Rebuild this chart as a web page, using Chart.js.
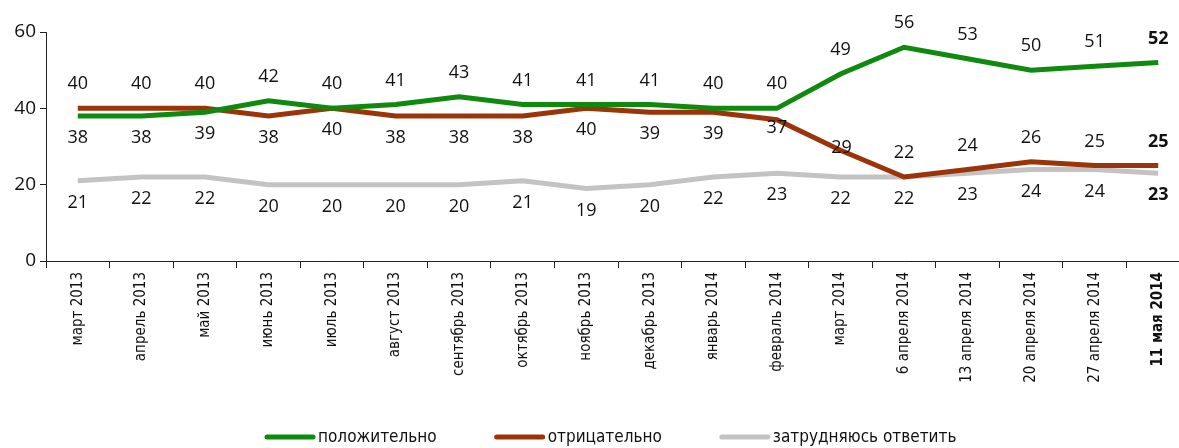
<!DOCTYPE html>
<html>
<head>
<meta charset="utf-8">
<script src="https://cdn.jsdelivr.net/npm/chart.js@4"></script>
<style>
  html, body { margin: 0; padding: 0; background: #fff; overflow: hidden; }
  #wrap { width: 1200px; height: 448px; }
</style>
</head>
<body>
<div id="wrap"><canvas id="chart"></canvas></div>
<script>
// data
const categories = ['март 2013', 'апрель 2013', 'май 2013', 'июнь 2013', 'июль 2013', 'август 2013',
    'сентябрь 2013', 'октябрь 2013', 'ноябрь 2013', 'декабрь 2013', 'январь 2014', 'февраль 2014',
    'март 2014', '6 апреля 2014', '13 апреля 2014', '20 апреля 2014', '27 апреля 2014', '11 мая 2014'];
const positive = [38, 38, 39, 42, 40, 41, 43, 41, 41, 41, 40, 40, 49, 56, 53, 50, 51, 52];
const negative = [40, 40, 40, 38, 40, 38, 38, 38, 40, 39, 39, 37, 29, 22, 24, 26, 25, 25];
const unsure   = [21, 22, 22, 20, 20, 20, 20, 21, 19, 20, 22, 23, 22, 22, 23, 24, 24, 23];
const yTicks = [0, 20, 40, 60];

const seriesNames = ['положительно', 'отрицательно', 'затрудняюсь ответить'];
const colors = ['#0f8a0f', '#9b3409', '#c3c3c3'];

const lastIdx = categories.length - 1;
const numFont = '"Open Sans", "Noto Sans", sans-serif';
const narrowFont = '"Liberation Sans Narrow", "DejaVu Sans Condensed", sans-serif';

// where each value label sits relative to its point: 'up', 'down' or 'mid'
function labelPlace(ds, i) {
    if (ds === 0) return positive[i] >= negative[i] ? 'up' : 'down';
    if (ds === 1) {
        if (i === 11 || i === 12) return 'mid';
        if (i > 12) return 'up';
        return negative[i] > positive[i] ? 'up' : 'down';
    }
    return 'down';
}

const valueLabels = {
    id: 'valueLabels',
    afterDatasetsDraw(chart) {
        const ctx = chart.ctx;
        ctx.save();
        ctx.fillStyle = '#111';
        ctx.textAlign = 'center';
        ctx.textBaseline = 'middle';
        chart.data.datasets.forEach((dataset, d) => {
            const meta = chart.getDatasetMeta(d);
            meta.data.forEach((pt, i) => {
                const place = labelPlace(d, i);
                let dy = place === 'up' ? -24 : 22;
                let dx = 0;
                if (place === 'mid') {
                    dy = i === 11 ? 8 : -2;
                    dx = i === 12 ? 1 : 0;
                }
                ctx.font = (i === lastIdx ? 'bold ' : '') + '18px ' + numFont;
                ctx.fillText(String(dataset.data[i]), pt.x + dx, pt.y + dy);
            });
        });
        ctx.restore();
    }
};

// legend drawn by hand so the item spacing matches the picture
const bottomLegend = {
    id: 'bottomLegend',
    afterDraw(chart) {
        const ctx = chart.ctx;
        ctx.save();
        ctx.font = '17px ' + narrowFont;
        ctx.textBaseline = 'middle';
        ctx.textAlign = 'left';
        ctx.lineCap = 'round';
        ctx.lineWidth = 5;
        let x = 265;
        const y = 437;
        chart.data.datasets.forEach((ds) => {
            ctx.strokeStyle = ds.borderColor;
            ctx.beginPath();
            ctx.moveTo(x + 2, y);
            ctx.lineTo(x + 48, y);
            ctx.stroke();
            ctx.fillStyle = '#111';
            ctx.fillText(ds.label, x + 53, y + 1);
            x += 53 + ctx.measureText(ds.label).width + 58;
        });
        ctx.restore();
    }
};

function makeSet(label, data, color) {
    return {
        label: label,
        data: data,
        borderColor: color,
        backgroundColor: color,
        borderWidth: 5,
        pointRadius: 0,
        tension: 0
    };
}

new Chart(document.getElementById('chart'), {
    type: 'line',
    data: {
        labels: categories,
        datasets: [
            makeSet(seriesNames[0], positive, colors[0]),
            makeSet(seriesNames[1], negative, colors[1]),
            makeSet(seriesNames[2], unsure, colors[2])
        ]
    },
    options: {
        responsive: true,
        maintainAspectRatio: false,
        animation: false,
        layout: { padding: { top: 32, right: 10, left: 0, bottom: 0 } },
        plugins: {
            tooltip: { enabled: false },
            legend: { display: false }
        },
        scales: {
            x: {
                offset: true,
                grid: { display: true, offset: true, drawOnChartArea: false, drawTicks: true, tickLength: 7, color: '#222' },
                border: { display: true, color: '#222', width: 1 },
                ticks: {
                    autoSkip: false,
                    maxRotation: 90,
                    minRotation: 90,
                    padding: 4,
                    color: '#111',
                    font: (c) => ({ family: narrowFont, size: 15, weight: c.index === lastIdx ? 'bold' : 'normal' })
                },
                afterFit: (scale) => { scale.height = 187; }
            },
            y: {
                min: 0,
                max: 60,
                afterBuildTicks: (scale) => { scale.ticks = yTicks.map(v => ({ value: v })); },
                grid: { display: true, drawOnChartArea: false, drawTicks: true, tickLength: 6, color: '#222' },
                border: { display: true, color: '#222', width: 1 },
                ticks: {
                    padding: 4,
                    color: '#111',
                    font: { family: numFont, size: 19 }
                },
                afterFit: (scale) => { scale.width = 46; }
            }
        }
    },
    plugins: [valueLabels, bottomLegend]
});
</script>
</body>
</html>
